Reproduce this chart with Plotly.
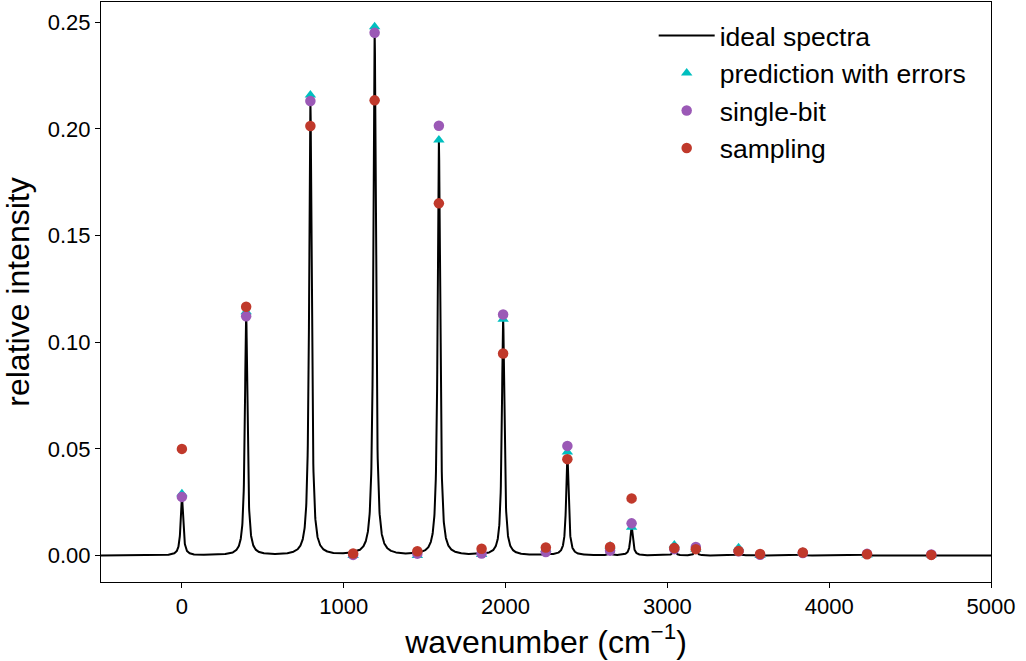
import numpy as np
import plotly.graph_objects as go

# ---- data ----
peak_pos = [0, 397, 794, 1058, 1191, 1455, 1588, 1852, 1985, 2249, 2382,
            2646, 2779, 3043, 3176, 3440, 3573, 3837, 4234, 4631]
ideal_int = [0.0275, 0.1135, 0.2135, 0.0003, 0.2465, 0.0005, 0.1945, 0.0008,
             0.1110, 0.0012, 0.0470, 0.0015, 0.0135, 0.0030, 0.0028, 0.0018,
             0.0005, 0.0010, 0.0005, 0.0003]
pred_int = [0.0290, 0.1143, 0.2159, 0.0000, 0.2479, 0.0000, 0.1948, 0.0005,
            0.1108, 0.0030, 0.0486, 0.0045, 0.0133, 0.0050, 0.0030, 0.0037,
            0.0000, 0.0015, 0.0003, 0.0002]
single_int = [0.0275, 0.1122, 0.2131, 0.0003, 0.2451, 0.0009, 0.2015, 0.0010,
              0.1130, 0.0017, 0.0514, 0.0023, 0.0151, 0.0030, 0.0040, 0.0020,
              0.0004, 0.0012, 0.0008, 0.0005]
single_err = [0.0005] * len(peak_pos)
sampling_int = [0.0500, 0.1166, 0.2014, 0.0010, 0.2134, 0.0020, 0.1651, 0.0032,
                0.0947, 0.0038, 0.0452, 0.0040, 0.0268, 0.0035, 0.0030, 0.0021,
                0.0007, 0.0014, 0.0006, 0.0003]
sampling_err = [0.0005] * len(peak_pos)
hwhm = 9.0  # Lorentzian half width (cm^-1)

# ---- ideal broadened spectrum ----
wn = np.arange(-500.0, 5000.5, 1.0)
spec = np.zeros_like(wn)
for p, a in zip(peak_pos, ideal_int):
    spec += a * hwhm**2 / ((wn - p) ** 2 + hwhm**2)

FONT = "Liberation Sans, Arial, sans-serif"
fig = go.Figure()
fig.add_trace(go.Scatter(x=wn, y=spec, mode="lines", name="ideal spectra",
                         line=dict(color="black", width=2), legendgroup="a"))
fig.add_trace(go.Scatter(x=peak_pos, y=pred_int, mode="markers",
                         name="prediction with errors", legendgroup="b",
                         marker=dict(symbol="triangle-up", size=10, color="#00bfbf")))
fig.add_trace(go.Scatter(x=peak_pos, y=single_int, mode="markers", name="single-bit",
                         legendgroup="c",
                         error_y=dict(type="data", array=single_err, color="#9b59b6",
                                      thickness=1.5, width=3),
                         marker=dict(symbol="circle", size=10.5, color="#9b59b6")))
fig.add_trace(go.Scatter(x=peak_pos, y=sampling_int, mode="markers", name="sampling",
                         legendgroup="d",
                         error_y=dict(type="data", array=sampling_err, color="#c0392b",
                                      thickness=1.5, width=3),
                         marker=dict(symbol="circle", size=10.5, color="#c0392b")))

axis_common = dict(showline=True, linecolor="black", linewidth=1, mirror=True,
                   ticks="outside", ticklen=5, tickwidth=1, tickcolor="black",
                   showgrid=False, zeroline=False,
                   tickfont=dict(family=FONT, size=22, color="black"))
fig.update_layout(
    width=1026, height=661,
    margin=dict(l=101, r=35, t=2, b=79),
    paper_bgcolor="white", plot_bgcolor="white",
    font=dict(family=FONT, color="black"),
    xaxis=dict(range=[-500, 5000], tickvals=[0, 1000, 2000, 3000, 4000, 5000],
               title=dict(text="wavenumber (cm<sup>−1</sup>)",
                          font=dict(family=FONT, size=32), standoff=6),
               **axis_common),
    yaxis=dict(range=[-0.0124, 0.2595], tickvals=[0, 0.05, 0.10, 0.15, 0.20, 0.25],
               tickformat=".2f",
               title=dict(text="relative intensity",
                          font=dict(family=FONT, size=32), standoff=8),
               **axis_common),
    legend=dict(x=0.621, y=0.983, xanchor="left", yanchor="top",
                bgcolor="rgba(0,0,0,0)", borderwidth=0,
                font=dict(family=FONT, size=26.5, color="black"),
                tracegroupgap=0, itemwidth=56),
    showlegend=True,
)
fig.write_html("out.html")
